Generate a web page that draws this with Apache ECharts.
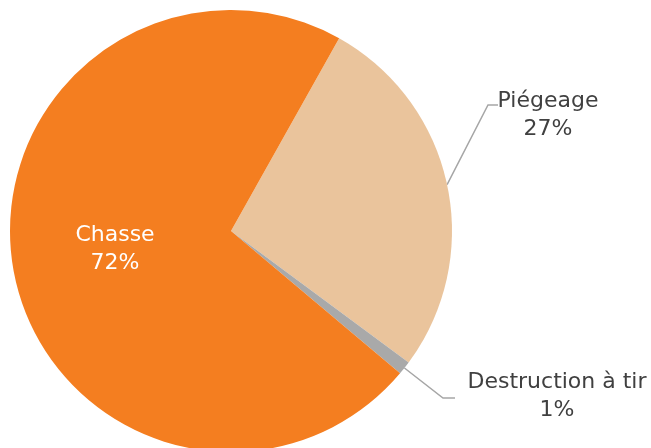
<!DOCTYPE html>
<html>
<head>
<meta charset="utf-8">
<script src="https://cdn.jsdelivr.net/npm/echarts@6/dist/echarts.min.js"></script>
<style>
  html, body { margin: 0; padding: 0; background: #fff; }
  #chart { width: 651px; height: 448px; }
</style>
</head>
<body>
<div id="chart"></div>
<script>
// Répartition des prélèvements par mode
const categories = ['Piégeage', 'Destruction à tir', 'Chasse'];
const shares = [27, 1, 72];
const colors = ['#EAC49C', '#A9A9A9', '#F47E20'];

// Label anchor points (label centre) and leader-line elbows
const labelAnchors = [[548, 115], [557, 396], [115, 249]];
const leaderElbows = [[[488, 105], [498, 105]], [[443, 398], [455, 398]], null];

const chart = echarts.init(document.getElementById('chart'), null, { renderer: 'canvas' });

chart.setOption({
  animation: false,
  series: [{
    type: 'pie',
    center: [231, 231],
    radius: 221,
    startAngle: 60.7,
    clockwise: true,
    avoidLabelOverlap: false,
    data: categories.map((name, i) => ({
      name,
      value: shares[i],
      itemStyle: { color: colors[i] },
      label: i === 2
        ? { position: 'inside', color: '#ffffff' }
        : { position: 'outside', color: '#404040' },
      labelLine: { show: i !== 2 }
    })),
    label: {
      formatter: p => p.name + '\n' + p.value + '%',
      fontFamily: 'DejaVu Sans',
      fontSize: 22,
      lineHeight: 28,
      align: 'center'
    },
    labelLine: {
      show: true,
      length: 20,
      length2: 10,
      lineStyle: { color: '#A6A6A6', width: 1.5 }
    },
    labelLayout: function (params) {
      const i = params.dataIndex;
      const a = labelAnchors[i];
      const out = { x: a[0], y: a[1], align: 'center', verticalAlign: 'middle' };
      const elbow = leaderElbows[i];
      if (elbow && params.labelLinePoints) {
        out.labelLinePoints = [params.labelLinePoints[0], elbow[0], elbow[1]];
      }
      return out;
    }
  }]
});
</script>
</body>
</html>
